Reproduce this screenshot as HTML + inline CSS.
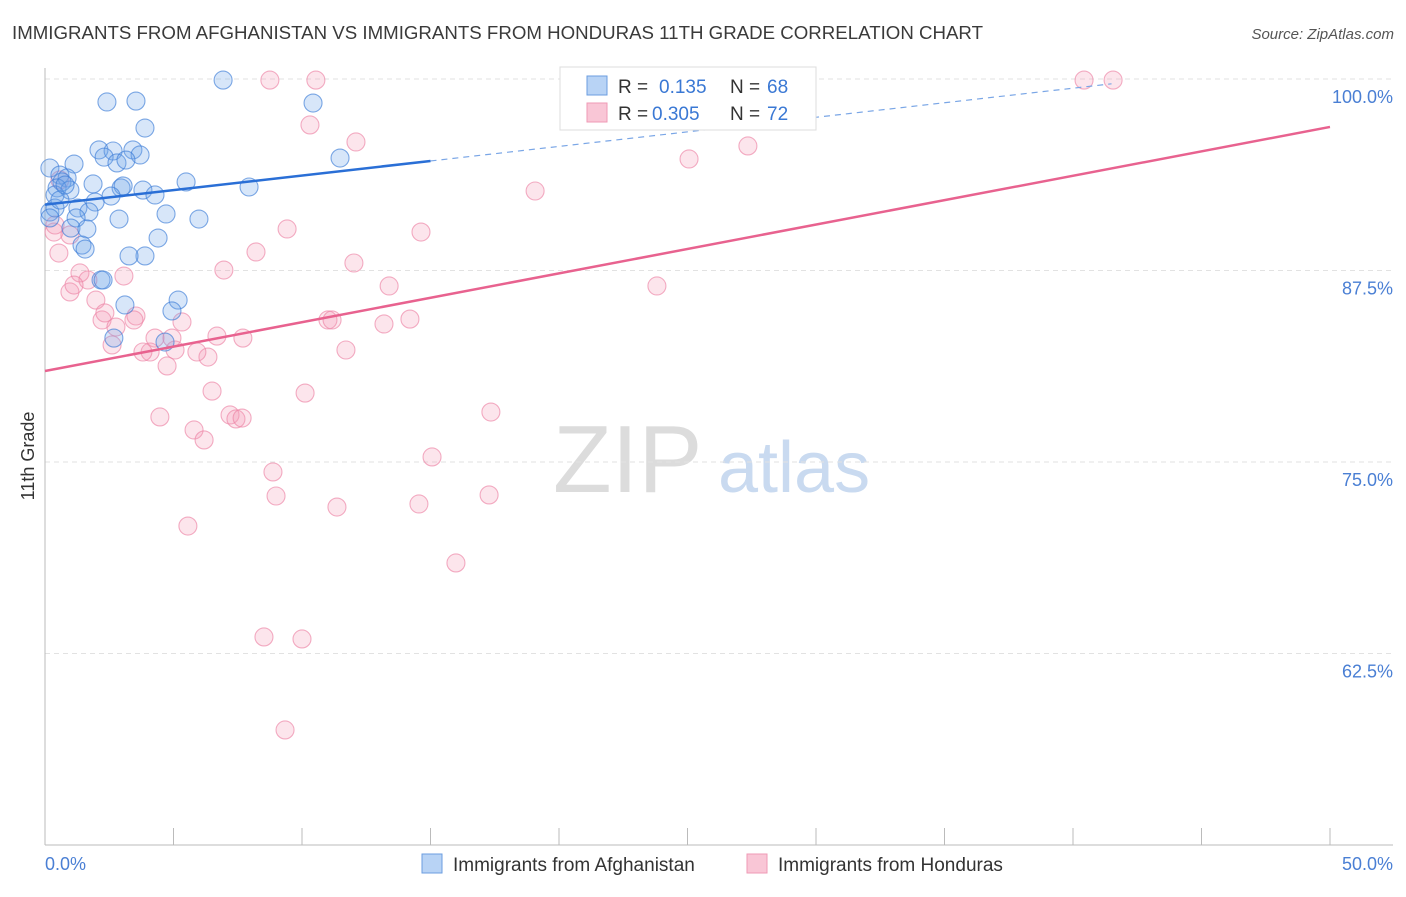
<!DOCTYPE html>
<html><head><meta charset="utf-8"><style>
body{margin:0;background:#fff;font-family:"Liberation Sans",sans-serif;}
svg text{font-family:"Liberation Sans",sans-serif;}
</style></head><body>
<svg id="chart" width="1406" height="892" viewBox="0 0 1406 892" xmlns="http://www.w3.org/2000/svg">
<text x="12" y="39" font-size="18" fill="#3a3a3a" textLength="971" lengthAdjust="spacingAndGlyphs">IMMIGRANTS FROM AFGHANISTAN VS IMMIGRANTS FROM HONDURAS 11TH GRADE CORRELATION CHART</text>
<text x="1394" y="39" font-size="15" fill="#555" font-style="italic" text-anchor="end">Source: ZipAtlas.com</text>
<g>
<text x="553" y="492" font-size="96" fill="#dcdcdc" font-family="Liberation Serif, serif">ZIP</text>
<text x="718" y="492" font-size="72" fill="#c9daf0">atlas</text>
</g>
<g id="grid"></g>
<g id="axes"></g>
<g id="marks"></g>
<text transform="translate(34,456) rotate(-90)" font-size="18" fill="#333" text-anchor="middle">11th Grade</text>
<g>
<rect x="560" y="67" width="256" height="63" fill="#fff" stroke="#ddd"/>
<rect x="587" y="76" width="20" height="19" fill="#b8d3f5" stroke="#6b9ee0"/>
<rect x="587" y="103" width="20" height="19" fill="#f9c6d6" stroke="#ef9ab5"/>
<text x="618" y="93" font-size="19" fill="#333">R = </text><text x="659" y="93" font-size="19" fill="#3a78d4">0.135</text>
<text x="730" y="93" font-size="19" fill="#333">N = </text><text x="767" y="93" font-size="19" fill="#3a78d4">68</text>
<text x="618" y="120" font-size="19" fill="#333">R = </text><text x="652" y="120" font-size="19" fill="#3a78d4">0.305</text>
<text x="730" y="120" font-size="19" fill="#333">N = </text><text x="767" y="120" font-size="19" fill="#3a78d4">72</text>
</g>
<g>
<rect x="422" y="854" width="20" height="19" fill="#b8d3f5" stroke="#6b9ee0"/>
<text x="453" y="871" font-size="19" fill="#333">Immigrants from Afghanistan</text>
<rect x="747" y="854" width="20" height="19" fill="#f9c6d6" stroke="#ef9ab5"/>
<text x="778" y="871" font-size="19" fill="#333">Immigrants from Honduras</text>
</g>
</svg>
<script>
const yTicks=[100,87.5,75,62.5];
const yTickLabels=["100.0%","87.5%","75.0%","62.5%"];
const xTickValues=[0,5,10,15,20,25,30,35,40,45,50];
const xEndLabels=["0.0%","50.0%"];
const blueX=[6.93,2.41,3.54,10.43,3.89,11.48,2.1,2.65,3.42,3.7,2.3,2.8,3.15,1.13,0.19,0.58,0.86,0.66,1.87,0.47,0.97,2.96,3.04,3.81,2.57,5.49,7.94,4.28,1.95,0.39,1.28,0.19,0.39,1.71,1.21,0.19,4.71,5.99,2.88,1.01,1.63,4.4,1.44,1.56,3.89,3.27,2.18,2.26,5.18,3.11,4.94,2.68,4.67,0.58,0.78];
const blueY=[99.93,98.5,98.56,98.43,96.8,94.84,95.37,95.3,95.37,95.04,94.9,94.52,94.71,94.45,94.19,93.73,93.54,93.28,93.15,92.89,92.75,92.89,93.02,92.75,92.36,93.28,92.95,92.43,91.97,92.43,91.58,91.32,91.58,91.32,90.93,90.93,91.19,90.86,90.86,90.27,90.21,89.62,89.16,88.9,88.45,88.45,86.88,86.88,85.57,85.25,84.86,83.09,82.83,92.1,93.08];
const pinkX=[8.75,10.54,28.13,40.43,41.56,10.31,12.1,25.06,27.35,19.07,9.42,14.63,8.21,6.96,12.02,13.39,23.81,0.54,0.35,0.97,1.36,1.67,3.07,0.97,1.13,1.98,2.22,2.33,3.54,3.46,5.33,2.76,2.61,4.28,4.09,3.81,4.94,5.06,4.75,6.34,5.91,6.69,7.7,11.01,11.17,13.19,14.2,11.71,6.5,10.12,17.35,4.47,7.2,7.43,7.67,5.8,6.19,8.87,15.06,8.99,11.36,14.55,17.28,5.56,15.99,8.52,10.0,9.34,0.39,0.58];
const pinkY=[99.93,99.93,99.93,99.93,99.93,97.0,95.89,94.78,95.63,92.69,90.21,90.01,88.71,87.53,87.99,86.49,86.49,88.64,90.01,89.82,87.34,86.88,87.14,86.1,86.55,85.57,84.27,84.73,84.53,84.27,84.14,83.81,82.64,83.09,82.18,82.18,83.09,82.31,81.27,81.85,82.18,83.22,83.09,84.27,84.27,84.01,84.33,82.31,79.63,79.5,78.26,77.94,78.07,77.81,77.87,77.09,76.44,74.35,75.33,72.78,72.06,72.26,72.85,70.82,68.41,63.58,63.45,57.51,90.47,93.41];
const blueTrend=[91.8,0.19];
const pinkTrend=[80.94,0.3186];
const NS="http://www.w3.org/2000/svg";
function xs(v){return 45+v*25.7;}
function ys(v){return 79+(100-v)*15.32;}
function mk(tag,attrs,parent){const e=document.createElementNS(NS,tag);for(const k in attrs)e.setAttribute(k,attrs[k]);parent.appendChild(e);return e;}
const grid=document.getElementById('grid'),axes=document.getElementById('axes'),marks=document.getElementById('marks');
yTicks.forEach((t,i)=>{
  const l=mk('line',{x1:45,x2:1393,y1:ys(t),y2:ys(t),stroke:'#e2e2e2','stroke-dasharray':'5,4'},grid);
  
  
  const tx=mk('text',{x:1393,y:ys(t)+24,'font-size':18,fill:'#4a7fd4','text-anchor':'end'},axes);
  tx.textContent=yTickLabels[i];
  
  
});
const la=mk('line',{x1:45,x2:45,y1:68,y2:845,stroke:'#bbb'},axes);


const ba=mk('line',{x1:45,x2:1393,y1:845,y2:845,stroke:'#bbb'},axes);


xTickValues.forEach(t=>{
  const l=mk('line',{x1:xs(t),x2:xs(t),y1:828,y2:845,stroke:'#bbb'},axes);
  
  
});
const xl0=mk('text',{x:45,y:870,'font-size':18,fill:'#4a7fd4'},axes);xl0.textContent=xEndLabels[0];


const xl1=mk('text',{x:1393,y:870,'font-size':18,fill:'#4a7fd4','text-anchor':'end'},axes);xl1.textContent=xEndLabels[1];


function pts(X,Y,fill,stroke,name){X.forEach((x,i)=>{
  const c=mk('circle',{cx:xs(x),cy:ys(Y[i]),r:9,fill:fill,stroke:stroke,'stroke-width':1.1},marks);
  
  
});}
pts(pinkX,pinkY,'rgba(244,150,180,0.25)','rgba(236,130,165,0.65)','honduras-point');
pts(blueX,blueY,'rgba(110,165,235,0.28)','rgba(60,125,215,0.65)','afghanistan-point');
const bt1=mk('line',{x1:xs(0),y1:ys(blueTrend[0]),x2:xs(15),y2:ys(blueTrend[0]+15*blueTrend[1]),stroke:'#2a6fd6','stroke-width':2.5},marks);


const bt2=mk('line',{x1:xs(15),y1:ys(blueTrend[0]+15*blueTrend[1]),x2:xs(41.5),y2:ys(blueTrend[0]+41.5*blueTrend[1]),stroke:'#7aa6e6','stroke-width':1.2,'stroke-dasharray':'6,5'},marks);


const pt=mk('line',{x1:xs(0),y1:ys(pinkTrend[0]),x2:xs(50),y2:ys(pinkTrend[0]+50*pinkTrend[1]),stroke:'#e8628f','stroke-width':2.5},marks);


</script>
</body></html>
